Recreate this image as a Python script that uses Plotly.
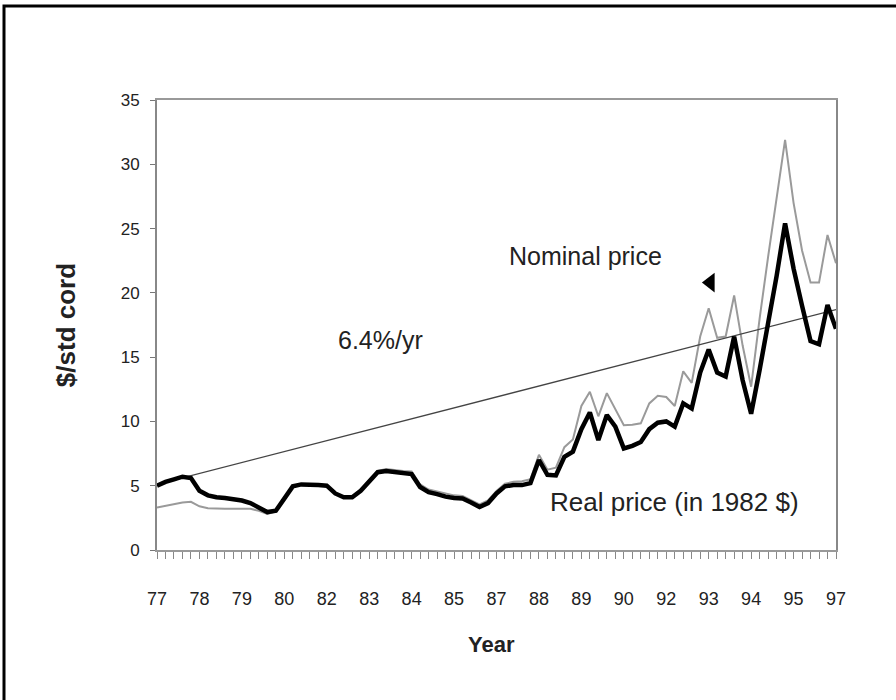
import plotly.graph_objects as go

# Quarterly observations, 1977 Q1 .. 1997 Q1 (81 quarters)
quarter_index = list(range(81))

real_price = [
    5.0, 5.3, 5.5, 5.7, 5.6, 4.6, 4.25, 4.1, 4.05, 3.95,
    3.85, 3.65, 3.3, 2.95, 3.05, 3.95, 4.95, 5.1, 5.1, 5.05,
    5.0, 4.4, 4.1, 4.1, 4.6, 5.3, 6.05, 6.15, 6.05, 5.95,
    5.9, 4.9, 4.5, 4.35, 4.15, 4.05, 4.0, 3.7, 3.35, 3.65,
    4.4, 4.95, 5.05, 5.05, 5.2, 7.0, 5.85, 5.8, 7.25, 7.65,
    9.4, 10.7, 8.55, 10.5, 9.6, 7.9, 8.1, 8.4, 9.4, 9.9,
    10.0, 9.6, 11.4, 11.0, 13.8, 15.6, 13.8, 13.5, 16.6, 13.2,
    10.6, 14.0, 17.6, 21.3, 25.4, 21.9, 19.0, 16.25, 16.0, 19.05,
    17.2,
]

nominal_price = [
    3.3, 3.45, 3.6, 3.7, 3.75, 3.4, 3.25, 3.2, 3.2, 3.2,
    3.2, 3.2, 3.05, 2.8, 3.0, 3.9, 4.95, 5.1, 5.1, 5.05,
    5.0, 4.4, 4.15, 4.15, 4.7, 5.4, 6.15, 6.3, 6.2, 6.15,
    6.1, 5.1, 4.7, 4.55, 4.35, 4.25, 4.2, 3.9, 3.55, 3.85,
    4.6, 5.15, 5.3, 5.35, 5.5, 7.4, 6.25, 6.4, 8.0, 8.6,
    11.2, 12.3, 10.4, 12.2, 10.9, 9.7, 9.75, 9.85, 11.4, 12.0,
    11.9, 11.2, 13.9, 13.0, 16.6, 18.8, 16.5, 16.6, 19.8, 15.9,
    12.7, 18.0, 22.8, 27.3, 31.9, 27.0, 23.3, 20.8, 20.8, 24.5,
    22.3,
]

# 6.4%/yr trend line endpoints (first and last quarter)
trend_x = [0, 80]
trend_y = [5.1, 18.7]

year_labels = ["77", "78", "79", "80", "82", "83", "84", "85", "87",
               "88", "89", "90", "92", "93", "94", "95", "97"]
label_every = 5

tick_text = []
for i in quarter_index:
    tick_text.append(year_labels[i // label_every] if i % label_every == 0 else "")

FONT = "Liberation Sans, Arial, sans-serif"

fig = go.Figure()

fig.add_trace(go.Scatter(
    x=quarter_index, y=nominal_price, mode="lines",
    line=dict(color="#9a9a9a", width=2), hoverinfo="skip", showlegend=False,
))
fig.add_trace(go.Scatter(
    x=trend_x, y=trend_y, mode="lines",
    line=dict(color="#444444", width=1.3), hoverinfo="skip", showlegend=False,
))
fig.add_trace(go.Scatter(
    x=quarter_index, y=real_price, mode="lines",
    line=dict(color="#000000", width=4.5), hoverinfo="skip", showlegend=False,
))

# pointer triangle next to "Nominal price"
fig.add_trace(go.Scatter(
    x=[65.2], y=[20.8], mode="markers",
    marker=dict(symbol="triangle-left", size=17, color="#000000"),
    hoverinfo="skip", showlegend=False,
))

ann_font = dict(family=FONT, size=25, color="#222222")
fig.add_annotation(x=50.5, y=22.9, text="Nominal price", showarrow=False,
                   font=ann_font, xanchor="center", yanchor="middle")
fig.add_annotation(x=26.3, y=16.3, text="6.4%/yr", showarrow=False,
                   font=ann_font, xanchor="center", yanchor="middle")
fig.add_annotation(x=61.0, y=3.7, text="Real price (in 1982 $)", showarrow=False,
                   font=dict(family=FONT, size=26, color="#222222"),
                   xanchor="center", yanchor="middle")

# x-axis title
fig.add_annotation(xref="paper", yref="paper", x=(491 - 157) / 679, y=(550 - 644) / 450,
                   text="<b>Year</b>", showarrow=False,
                   font=dict(family=FONT, size=22, color="#222222"),
                   xanchor="center", yanchor="middle")

# outer frame around the whole chart
fig.add_shape(type="rect", xref="paper", yref="paper",
              x0=(4 - 157) / 679, x1=(905 - 157) / 679,
              y0=(550 - 710) / 450, y1=(550 - 6) / 450,
              line=dict(color="#000000", width=3), layer="below")

fig.update_layout(
    width=896, height=700,
    margin=dict(l=157, r=60, t=100, b=150),
    paper_bgcolor="white", plot_bgcolor="white",
    font=dict(family=FONT, color="#222222"),
    xaxis=dict(
        range=[0, 80], tickmode="array", tickvals=quarter_index, ticktext=tick_text,
        ticks="outside", ticklen=7, tickcolor="#888888", tickwidth=1,
        showline=True, linecolor="#999999", linewidth=1.5, mirror=True,
        showgrid=False, zeroline=False,
        tickfont=dict(family=FONT, size=18, color="#222222"),
        ticklabelstandoff=25,
    ),
    yaxis=dict(
        range=[0, 35], tickmode="linear", tick0=0, dtick=5,
        ticks="outside", ticklen=5, tickcolor="#777777",
        showline=True, linecolor="#888888", linewidth=2, mirror=True,
        showgrid=False, zeroline=False,
        tickfont=dict(family=FONT, size=17, color="#222222"),
        ticklabelstandoff=7,
        title=dict(text="<b>$/std cord</b>", font=dict(family=FONT, size=26, color="#222222"),
                   standoff=38),
    ),
)

fig.write_html(
    "out.html",
    config={"displayModeBar": False},
    post_script="document.body.style.margin='0';document.body.style.overflow='hidden';",
)
